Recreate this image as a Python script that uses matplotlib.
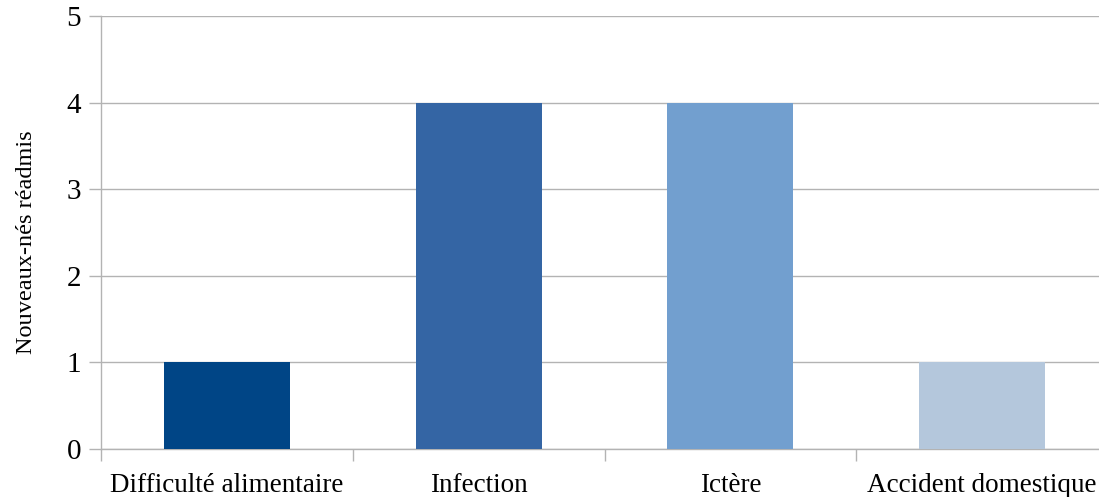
import matplotlib
matplotlib.use("Agg")
import matplotlib.pyplot as plt

categories = ["Difficulté alimentaire", "Infection", "Ictère", "Accident domestique"]
values = [1, 4, 4, 1]
colors = ["#004586", "#3465A4", "#729FCF", "#B4C7DC"]
yticks = [0, 1, 2, 3, 4, 5]
ylabel = "Nouveaux-nés réadmis"

plt.rcParams['font.family'] = ['Liberation Serif', 'DejaVu Serif']

fig = plt.figure(figsize=(10.99, 4.97), dpi=100)
ax_w = 1007
ax = fig.add_axes([101/1099, 48/497, ax_w/1099, 433/497])

x = list(range(len(categories)))
ax.bar(x, values, width=0.5, color=colors, zorder=3)

ax.set_xlim(-0.5, len(categories) - 0.5)
ax.set_ylim(0, 5)
ax.set_yticks(yticks)
ax.yaxis.grid(True, color="#b3b3b3", linewidth=1.0, zorder=0)
ax.set_axisbelow(True)

# category labels at centers, tick marks at boundaries
ax.set_xticks([i - 0.5 for i in range(len(categories))])
ax.set_xticklabels([])
ax.set_xticks(x, minor=True)
ax.set_xticklabels(categories, minor=True)
ax.tick_params(axis='x', which='minor', length=0, labelsize=19.5, pad=17.5)
ax.tick_params(axis='x', which='major', length=8.6, width=1.0, color="#b3b3b3", direction='out')
ax.tick_params(axis='y', length=8.6, width=1.0, color="#b3b3b3", labelsize=21, pad=5.8)

for s in ['top', 'right']:
    ax.spines[s].set_visible(False)
for s in ['left', 'bottom']:
    ax.spines[s].set_color("#b3b3b3")
    ax.spines[s].set_linewidth(1.0)

ax.set_ylabel(ylabel, fontsize=17.5)
ax.yaxis.set_label_coords(-64/ax_w, 0.478)

fig.savefig("out.png", dpi=100)
